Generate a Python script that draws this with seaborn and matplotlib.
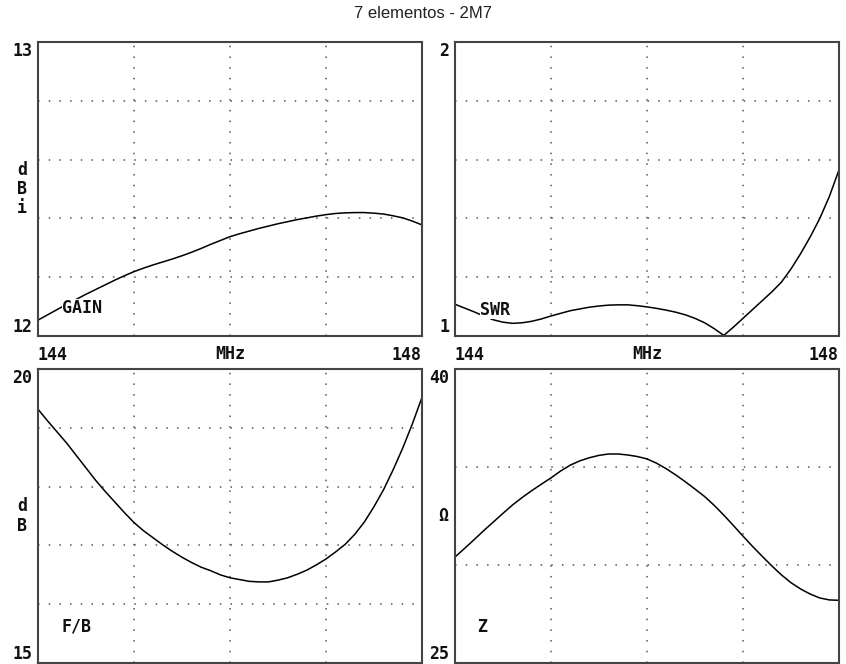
import matplotlib
matplotlib.use('Agg')
import matplotlib.pyplot as plt
import seaborn as sns

# frequency sweep (MHz), 0.1 MHz steps
freq = [round(144.0 + 0.1 * k, 1) for k in range(41)]

gain = [12.054, 12.072, 12.090, 12.108, 12.125, 12.142, 12.158, 12.174, 12.190, 12.205,
        12.219, 12.231, 12.242, 12.252, 12.262, 12.273, 12.285, 12.298, 12.312, 12.325,
        12.338, 12.348, 12.357, 12.366, 12.374, 12.382, 12.389, 12.396, 12.402, 12.408,
        12.413, 12.417, 12.419, 12.420, 12.420, 12.418, 12.415, 12.409, 12.402, 12.391,
        12.378]

swr = [1.108, 1.095, 1.082, 1.068, 1.055, 1.047, 1.043, 1.045, 1.050, 1.058,
       1.068, 1.077, 1.086, 1.092, 1.098, 1.102, 1.105, 1.106, 1.106, 1.103,
       1.099, 1.094, 1.088, 1.081, 1.072, 1.060, 1.045, 1.025, 1.002, 1.030,
       1.060, 1.090, 1.120, 1.150, 1.183, 1.228, 1.280, 1.337, 1.400, 1.475,
       1.565]

fb = [19.32, 19.12, 18.93, 18.74, 18.53, 18.32, 18.11, 17.92, 17.74, 17.56,
      17.39, 17.25, 17.13, 17.01, 16.90, 16.80, 16.71, 16.63, 16.57, 16.50,
      16.45, 16.42, 16.39, 16.38, 16.38, 16.41, 16.45, 16.51, 16.58, 16.67,
      16.77, 16.89, 17.02, 17.19, 17.40, 17.66, 17.95, 18.29, 18.66, 19.07,
      19.52]

z = [30.41, 30.85, 31.30, 31.76, 32.20, 32.64, 33.07, 33.45, 33.80, 34.13,
     34.45, 34.80, 35.10, 35.32, 35.48, 35.60, 35.67, 35.67, 35.62, 35.54,
     35.42, 35.20, 34.92, 34.60, 34.25, 33.88, 33.50, 33.05, 32.55, 32.02,
     31.48, 30.95, 30.45, 29.96, 29.50, 29.10, 28.78, 28.52, 28.32, 28.22,
     28.20]

panels = [
    # values, ylim, y grid, name, unit label
    (gain, (12, 13), [12.2, 12.4, 12.6, 12.8], 'GAIN', 'd\nB\ni'),
    (swr, (1, 2), [1.2, 1.4, 1.6, 1.8], 'SWR', ''),
    (fb, (15, 20), [16, 17, 18, 19], 'F/B', 'd\nB'),
    (z, (25, 40), [30, 35], 'Z', 'Ω'),
]

sns.set_style('white')
plt.rcParams['font.family'] = ['DejaVu Sans Mono', 'DejaVu Sans']

fig = plt.figure(figsize=(8.46, 6.64), dpi=100)
w, h = 0.4539, 0.4425
positions = [(0.0449, 0.4940), (0.5378, 0.4940), (0.0449, 0.0015), (0.5378, 0.0015)]
label_pos = [(0.0625, 0.095), (0.065, 0.088), (0.0625, 0.123), (0.057, 0.123)]
mono = dict(fontsize=12, fontweight='bold', color='#111111')

for i, (vals, ylim, ygrid, name, unit) in enumerate(panels):
    ax = fig.add_axes([positions[i][0], positions[i][1], w, h])
    sns.lineplot(x=freq, y=vals, ax=ax, color='black', linewidth=1.1)
    ax.set_xlim(144, 148)
    ax.set_ylim(*ylim)

    ax.set_yticks(list(ylim))
    ax.set_yticklabels([str(ylim[0]), str(ylim[1])], **mono)
    ylabs = ax.get_yticklabels()
    ylabs[0].set_verticalalignment('bottom')
    ylabs[1].set_verticalalignment('top')

    ax.set_xticks([145, 146, 147], minor=True)
    ax.set_yticks(ygrid, minor=True)
    if i < 2:
        ax.set_xticks([144, 148])
        ax.set_xticklabels(['144', '148'], **mono)
        xlabs = ax.get_xticklabels()
        xlabs[0].set_horizontalalignment('left')
        xlabs[1].set_horizontalalignment('right')
        ax.text(0.5, -0.03, 'MHz', transform=ax.transAxes, ha='center', va='top', **mono)
    else:
        ax.set_xticks([])
    ax.tick_params(which='both', length=0)
    ax.tick_params(axis='y', pad=4)
    ax.tick_params(axis='x', pad=7)
    ax.grid(which='minor', color='#555555', linestyle=(0, (1, 6)), linewidth=1.1)
    ax.grid(which='major', visible=False)

    for s in ax.spines.values():
        s.set_color('#444444')
        s.set_linewidth(1.5)

    ax.text(label_pos[i][0], label_pos[i][1], name, transform=ax.transAxes,
            ha='left', va='center', zorder=5,
            bbox=dict(facecolor='white', edgecolor='none', pad=0), **mono)
    if unit:
        ux = -0.031 if name == 'Z' else -0.042
        ax.text(ux, 0.5, unit, transform=ax.transAxes, ha='center', va='center',
                linespacing=1.1, **mono)

fig.text(0.5, 0.979, '7 elementos - 2M7', ha='center', va='center',
         fontsize=12, family='Liberation Sans', color='#222222')

fig.savefig('out.png', dpi=100)
